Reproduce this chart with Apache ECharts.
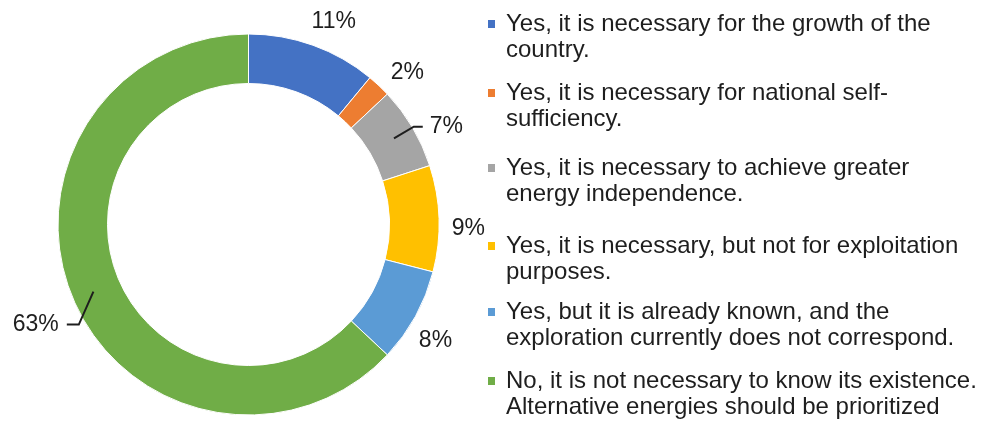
<!DOCTYPE html>
<html>
<head>
<meta charset="utf-8">
<script src="https://cdn.jsdelivr.net/npm/echarts@6/dist/echarts.min.js"></script>
<style>
  html, body { margin: 0; padding: 0; background: #ffffff; }
  #chart { width: 988px; height: 426px; }
</style>
</head>
<body>
<div id="chart"></div>
<script>
// ---- data ----
const categories = [
  'Yes, it is necessary for the growth of the\ncountry.',
  'Yes, it is necessary for national self-\nsufficiency.',
  'Yes, it is necessary to achieve greater\nenergy independence.',
  'Yes, it is necessary, but not for exploitation\npurposes.',
  'Yes, but it is already known, and the\nexploration currently does not correspond.',
  'No, it is not necessary to know its existence.\nAlternative energies should be prioritized'
];
const values = [11, 2, 7, 9, 8, 63];
const colors = ['#4472C4', '#ED7D31', '#A5A5A5', '#FFC000', '#5B9BD5', '#70AD47'];
const leaderLabels = [2, 5];   // slices whose label is drawn with a leader line

// ---- styling / layout ----
const FONT = "'Liberation Sans', Arial, sans-serif";
const TEXT = '#1e1e1e';
const CENTER = [248.5, 224.5];
const leaderLen = { 2: [23, 9], 5: [5, 12] };
const shift63 = [-3, 31];
const legendTops = [10, 79, 154, 232, 298, 367];

const chart = echarts.init(document.getElementById('chart'), null, { renderer: 'canvas' });

const ringData = categories.map((n, i) => ({ name: n, value: values[i], itemStyle: { color: colors[i] } }));

const leaderData = categories.map((n, i) => {
  const on = leaderLabels.indexOf(i) >= 0;
  const label = { show: on };
  if (i === 5) { label.padding = [0, 8, 0, 0]; label.backgroundColor = 'rgba(0,0,0,0)'; }
  return {
    name: n, value: values[i],
    label: label,
    labelLine: on ? { show: true, length: leaderLen[i][0], length2: leaderLen[i][1] } : { show: false }
  };
});

const plainData = categories.map((n, i) => ({
  name: n, value: values[i],
  label: { show: leaderLabels.indexOf(i) < 0 }
}));

const labelText = { fontSize: 23, fontFamily: FONT, color: TEXT, formatter: '{c}%' };

const legends = categories.map((n, i) => ({
  orient: 'vertical',
  left: 486,
  top: legendTops[i],
  padding: 0,
  itemWidth: 14,
  itemHeight: 52,
  selectedMode: false,
  icon: 'path://M0,0h0.01v0.01h-0.01zM0,8h9v10h-9zM13.99,51.99h0.01v0.01h-0.01z',
  data: [n],
  textStyle: { fontSize: 24, lineHeight: 26, fontFamily: FONT, color: TEXT }
}));

chart.setOption({
  animation: false,
  backgroundColor: '#ffffff',
  legend: legends,
  series: [
    {
      type: 'pie',
      z: 2,
      center: CENTER,
      radius: [141, 190.5],
      startAngle: 90,
      clockwise: true,
      silent: true,
      avoidLabelOverlap: false,
      label: { show: false },
      labelLine: { show: false },
      itemStyle: { borderColor: '#ffffff', borderWidth: 1 },
      data: ringData
    },
    {
      type: 'pie',
      z: 5,
      center: CENTER,
      radius: [0, 169],
      startAngle: 90,
      clockwise: true,
      silent: true,
      avoidLabelOverlap: false,
      itemStyle: { color: 'rgba(0,0,0,0)', borderWidth: 0 },
      label: Object.assign({ position: 'outside', distanceToLabelLine: 7 }, labelText),
      labelLine: { lineStyle: { color: TEXT, width: 2 } },
      labelLayout: function (p) {
        if (p.dataIndex !== 5) return {};
        return {
          x: p.labelRect.x + p.labelRect.width + shift63[0],
          y: p.labelRect.y + p.labelRect.height / 2 + shift63[1]
        };
      },
      data: leaderData
    },
    {
      type: 'pie',
      z: 5,
      center: CENTER,
      radius: [195, 239],
      startAngle: 87,
      clockwise: true,
      silent: true,
      avoidLabelOverlap: false,
      itemStyle: { color: 'rgba(0,0,0,0)', borderWidth: 0 },
      label: Object.assign({ position: 'inside' }, labelText),
      labelLine: { show: false },
      data: plainData
    }
  ]
});
</script>
</body>
</html>
